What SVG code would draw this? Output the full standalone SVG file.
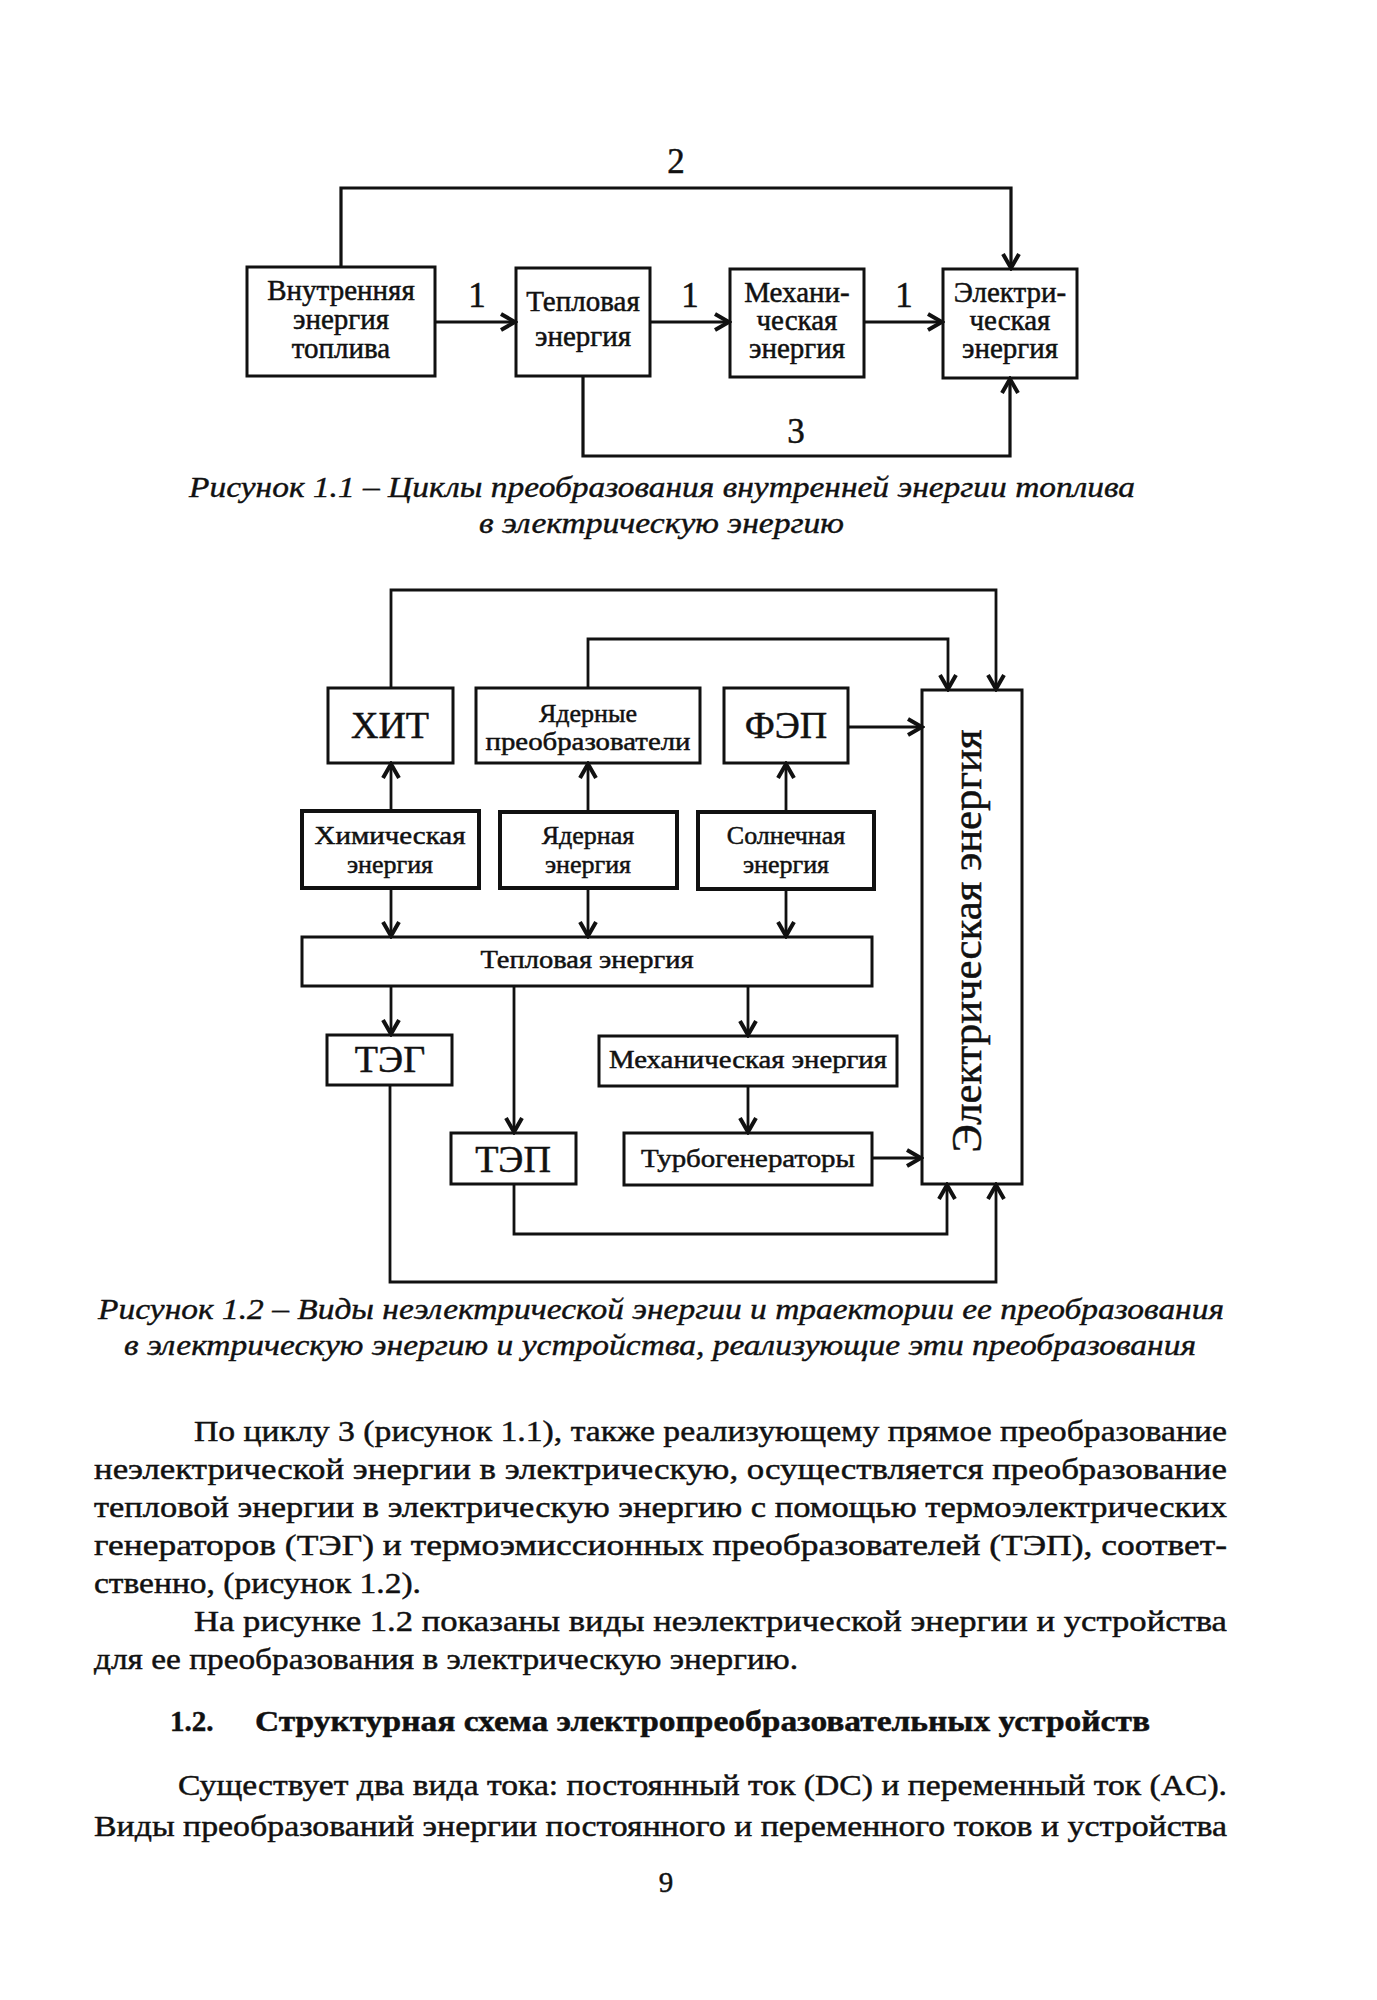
<svg xmlns="http://www.w3.org/2000/svg" width="1377" height="2000" viewBox="0 0 1377 2000">
<style>
  .bx{fill:none;stroke:#111;stroke-width:3}
  .bx4{fill:none;stroke:#111;stroke-width:4}
  .ln{fill:none;stroke:#111;stroke-width:3.2}
  .ln2{fill:none;stroke:#111;stroke-width:2.8}
  .t{font-family:"Liberation Serif","Times New Roman",serif;fill:#111;stroke:#111;stroke-width:0.5;text-anchor:middle}
  .f29{font-size:29px}
  .f26{font-size:26px}
  .f38{font-size:38px}
  .num{font-size:35px}
  .cap{font-family:"Liberation Serif","Times New Roman",serif;font-style:italic;font-size:29px;fill:#111;stroke:#111;stroke-width:0.4}
  .body{font-family:"Liberation Serif","Times New Roman",serif;font-size:29px;fill:#111;stroke:#111;stroke-width:0.45}
  .bold{font-weight:bold}
</style>
<defs>
  <marker id="ah" markerUnits="userSpaceOnUse" markerWidth="20" markerHeight="20" viewBox="0 0 20 20" refX="17" refY="10" orient="auto">
    <path d="M3,2 L17,10 L3,18" fill="none" stroke="#111" stroke-width="4" stroke-linejoin="miter"/>
  </marker>
</defs>
<rect width="1377" height="2000" fill="#fff"/>

<!-- Figure 1.1 -->
<g id="fig11-connectors">
  <path class="ln" d="M341,267 V188 H1011 V268" marker-end="url(#ah)"/>
  <path class="ln" d="M435,322 H515" marker-end="url(#ah)"/>
  <path class="ln" d="M650,322 H729" marker-end="url(#ah)"/>
  <path class="ln" d="M864,322 H942" marker-end="url(#ah)"/>
  <path class="ln" d="M583,376 V456 H1010 V379" marker-end="url(#ah)"/>
  <text class="t num" x="676" y="173">2</text>
  <text class="t num" x="477" y="307">1</text>
  <text class="t num" x="690" y="307">1</text>
  <text class="t num" x="904" y="307">1</text>
  <text class="t num" x="796" y="443">3</text>
</g>
<g id="n-vnutr">
  <rect class="bx" x="247" y="267" width="188" height="109"/>
  <text class="t f29" x="341" y="300">Внутренняя</text>
  <text class="t f29" x="341" y="329">энергия</text>
  <text class="t f29" x="341" y="358">топлива</text>
</g>
<g id="n-teplo1">
  <rect class="bx" x="516" y="268" width="134" height="108"/>
  <text class="t f29" x="583" y="311">Тепловая</text>
  <text class="t f29" x="583" y="346">энергия</text>
</g>
<g id="n-meh1">
  <rect class="bx" x="730" y="269" width="134" height="108"/>
  <text class="t f29" x="797" y="302">Механи-</text>
  <text class="t f29" x="797" y="330">ческая</text>
  <text class="t f29" x="797" y="358">энергия</text>
</g>
<g id="n-el1">
  <rect class="bx" x="943" y="269" width="134" height="109"/>
  <text class="t f29" x="1010" y="302">Электри-</text>
  <text class="t f29" x="1010" y="330">ческая</text>
  <text class="t f29" x="1010" y="358">энергия</text>
</g>
<g id="caption11">
  <text class="cap" x="189" y="497" textLength="946" lengthAdjust="spacingAndGlyphs">Рисунок 1.1 – Циклы преобразования внутренней энергии топлива</text>
  <text class="cap" x="479" y="533" textLength="365" lengthAdjust="spacingAndGlyphs">в электрическую энергию</text>
</g>

<!-- Figure 1.2 -->
<g id="fig12-connectors">
  <path class="ln2" d="M391,688 V590 H996 V689" marker-end="url(#ah)"/>
  <path class="ln2" d="M588,688 V639 H948 V689" marker-end="url(#ah)"/>
  <path class="ln2" d="M848,727 H922" marker-end="url(#ah)"/>
  <path class="ln2" d="M391,811 V764" marker-end="url(#ah)"/>
  <path class="ln2" d="M588,812 V764" marker-end="url(#ah)"/>
  <path class="ln2" d="M786,812 V764" marker-end="url(#ah)"/>
  <path class="ln2" d="M391,888 V936" marker-end="url(#ah)"/>
  <path class="ln2" d="M588,888 V936" marker-end="url(#ah)"/>
  <path class="ln2" d="M786,889 V936" marker-end="url(#ah)"/>
  <path class="ln2" d="M391,986 V1034" marker-end="url(#ah)"/>
  <path class="ln2" d="M514,986 V1132" marker-end="url(#ah)"/>
  <path class="ln2" d="M748,986 V1035" marker-end="url(#ah)"/>
  <path class="ln2" d="M748,1086 V1132" marker-end="url(#ah)"/>
  <path class="ln2" d="M872,1158 H921" marker-end="url(#ah)"/>
  <path class="ln2" d="M514,1184 V1234 H947 V1185" marker-end="url(#ah)"/>
  <path class="ln2" d="M390,1085 V1282 H996 V1185" marker-end="url(#ah)"/>
</g>
<g id="n-hit">
  <rect class="bx" x="328" y="688" width="125" height="75"/>
  <text class="t f38" x="390" y="738">ХИТ</text>
</g>
<g id="n-yadpreob">
  <rect class="bx" x="476" y="688" width="224" height="75"/>
  <text class="t f26" x="588" y="722">Ядерные</text>
  <text class="t f26" x="588" y="750" textLength="205" lengthAdjust="spacingAndGlyphs">преобразователи</text>
</g>
<g id="n-fep">
  <rect class="bx" x="724" y="688" width="124" height="75"/>
  <text class="t f38" x="786" y="738">ФЭП</text>
</g>
<g id="n-him">
  <rect class="bx4" x="302" y="811" width="177" height="77"/>
  <text class="t f26" x="390" y="844" textLength="151" lengthAdjust="spacingAndGlyphs">Химическая</text>
  <text class="t f26" x="390" y="873">энергия</text>
</g>
<g id="n-yad">
  <rect class="bx4" x="500" y="812" width="177" height="76"/>
  <text class="t f26" x="588" y="844">Ядерная</text>
  <text class="t f26" x="588" y="873">энергия</text>
</g>
<g id="n-soln">
  <rect class="bx4" x="698" y="812" width="176" height="77"/>
  <text class="t f26" x="786" y="844">Солнечная</text>
  <text class="t f26" x="786" y="873">энергия</text>
</g>
<g id="n-teplo2">
  <rect class="bx" x="302" y="937" width="570" height="49"/>
  <text class="t f26" x="587" y="968" textLength="213" lengthAdjust="spacingAndGlyphs">Тепловая энергия</text>
</g>
<g id="n-teg">
  <rect class="bx" x="327" y="1035" width="125" height="50"/>
  <text class="t f38" x="390" y="1072">ТЭГ</text>
</g>
<g id="n-meh2">
  <rect class="bx" x="599" y="1036" width="298" height="50"/>
  <text class="t f26" x="748" y="1068" textLength="278" lengthAdjust="spacingAndGlyphs">Механическая энергия</text>
</g>
<g id="n-tep">
  <rect class="bx" x="451" y="1133" width="125" height="51"/>
  <text class="t f38" x="513" y="1172">ТЭП</text>
</g>
<g id="n-turbo">
  <rect class="bx" x="624" y="1133" width="248" height="52"/>
  <text class="t f26" x="748" y="1167" textLength="214" lengthAdjust="spacingAndGlyphs">Турбогенераторы</text>
</g>
<g id="n-el2">
  <rect class="bx" x="922" y="690" width="100" height="494"/>
  <text class="t" font-size="42" transform="translate(981,941) rotate(-90)" x="0" y="0" textLength="423" lengthAdjust="spacingAndGlyphs">Электрическая энергия</text>
</g>
<g id="caption12">
  <text class="cap" x="98" y="1319" textLength="1126" lengthAdjust="spacingAndGlyphs">Рисунок 1.2 – Виды неэлектрической энергии и траектории ее преобразования</text>
  <text class="cap" x="124" y="1355" textLength="1072" lengthAdjust="spacingAndGlyphs">в электрическую энергию и устройства, реализующие эти преобразования</text>
</g>

<!-- Body text -->
<g id="body">
  <text class="body" x="194" y="1441" textLength="1033" lengthAdjust="spacingAndGlyphs">По циклу 3 (рисунок 1.1), также реализующему прямое преобразование</text>
  <text class="body" x="94" y="1479" textLength="1133" lengthAdjust="spacingAndGlyphs">неэлектрической  энергии  в  электрическую,  осуществляется  преобразование</text>
  <text class="body" x="94" y="1517" textLength="1133" lengthAdjust="spacingAndGlyphs">тепловой энергии в электрическую энергию с помощью термоэлектрических</text>
  <text class="body" x="94" y="1555" textLength="1133" lengthAdjust="spacingAndGlyphs">генераторов  (ТЭГ)  и  термоэмиссионных  преобразователей  (ТЭП),  соответ-</text>
  <text class="body" x="94" y="1593" textLength="327" lengthAdjust="spacingAndGlyphs">ственно, (рисунок 1.2).</text>
  <text class="body" x="194" y="1631" textLength="1033" lengthAdjust="spacingAndGlyphs">На рисунке 1.2 показаны виды неэлектрической энергии и устройства</text>
  <text class="body" x="94" y="1669" textLength="704" lengthAdjust="spacingAndGlyphs">для ее преобразования в электрическую энергию.</text>
  <text class="body bold" x="170" y="1731">1.2.</text>
  <text class="body bold" x="255" y="1731" textLength="895" lengthAdjust="spacingAndGlyphs">Структурная схема электропреобразовательных устройств</text>
  <text class="body" x="178" y="1795" textLength="1049" lengthAdjust="spacingAndGlyphs">Существует два вида тока: постоянный ток (DC) и переменный ток (AC).</text>
  <text class="body" x="94" y="1836" textLength="1133" lengthAdjust="spacingAndGlyphs">Виды преобразований энергии постоянного и переменного токов и устройства</text>
  <text class="body" x="666" y="1892" text-anchor="middle">9</text>
</g>
</svg>
